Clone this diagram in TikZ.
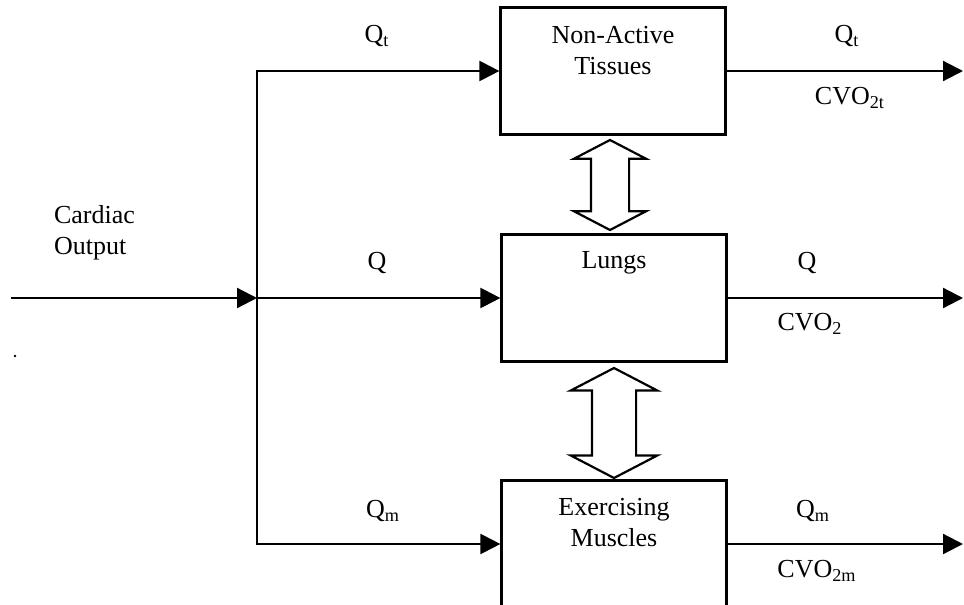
\documentclass[tikz,border=0pt]{standalone}
\usepackage{fontspec}
\setmainfont{Liberation Serif}
\usetikzlibrary{arrows.meta,positioning,shapes.arrows}

\begin{document}
\begin{tikzpicture}[x=0.5pt, y=-0.5pt, line width=1.1pt,
    organ/.style={rectangle, draw, minimum width=112.5pt, minimum height=63.5pt, inner sep=0pt},
    flow/.style={-{Triangle[length=10pt,width=10pt]}},
    swap/.style={double arrow, draw, rotate=90, inner xsep=0pt, double arrow tip angle=125},
    txt/.style={font=\fontsize{13}{15.5}\selectfont, inner sep=0pt, align=center}]
    \clip (0,0) rectangle (964,605);

    % compartments
    \node(tis) [organ] at (613,71) {};
    \node(lung) [organ] at (614,298) {};
    \node(mus) [organ] at (614,544) {};
    \node(tistxt) [txt] at (613,51) {Non-Active\\Tissues};
    \node(lungtxt) [txt] at (614,263) {Lungs};
    \node(mustxt) [txt] at (614,523) {Exercising\\Muscles};

    % gas exchange
    \node(sw1) [swap, minimum height=45pt, minimum width=35pt, inner ysep=9pt, double arrow head extend=8.5pt] at (610,185) {};
    \node(sw2) [swap, minimum height=55pt, minimum width=42.5pt, inner ysep=10.5pt, double arrow head extend=10.6pt] at (614,423) {};

    % blood flow in
    \coordinate(in) at (11,298);
    \coordinate(split) at (257,298);
    \draw[flow] (in) -- (split);
    \draw[{Triangle[length=10pt,width=10pt]}-{Triangle[length=10pt,width=10pt]}]
    (tis.west) -- (tis.west -| split) -- (mus.west -| split) -- (mus.west);
    \draw[flow] (split) -- (lung.west);

    % blood flow out
    \coordinate(out1) at (963,71);
    \coordinate(out2) at (963,298);
    \coordinate(out3) at (963,544);
    \draw[flow] (tis.east) -- (out1);
    \draw[flow] (lung.east) -- (out2);
    \draw[flow] (mus.east) -- (out3);

    \node(co) [txt, anchor=west, align=left] at (53,233) {Cardiac\\Output};
    \node(qt) [txt] at (377,36) {Q\textsubscript{t}};
    \node(q) [txt] at (377,263) {Q};
    \node(qm) [txt] at (383,511) {Q\textsubscript{m}};
    \node(qtout) [txt] at (847,36) {Q\textsubscript{t}};
    \node(cvt) [txt] at (850,98) {CVO\textsubscript{2t}};
    \node(qout) [txt] at (807,263) {Q};
    \node(cv) [txt] at (810,324) {CVO\textsubscript{2}};
    \node(qmout) [txt] at (813,511) {Q\textsubscript{m}};
    \node(cvm) [txt] at (817,571) {CVO\textsubscript{2m}};

    \fill (15,356) circle (0.7pt);
\end{tikzpicture}
\end{document}
